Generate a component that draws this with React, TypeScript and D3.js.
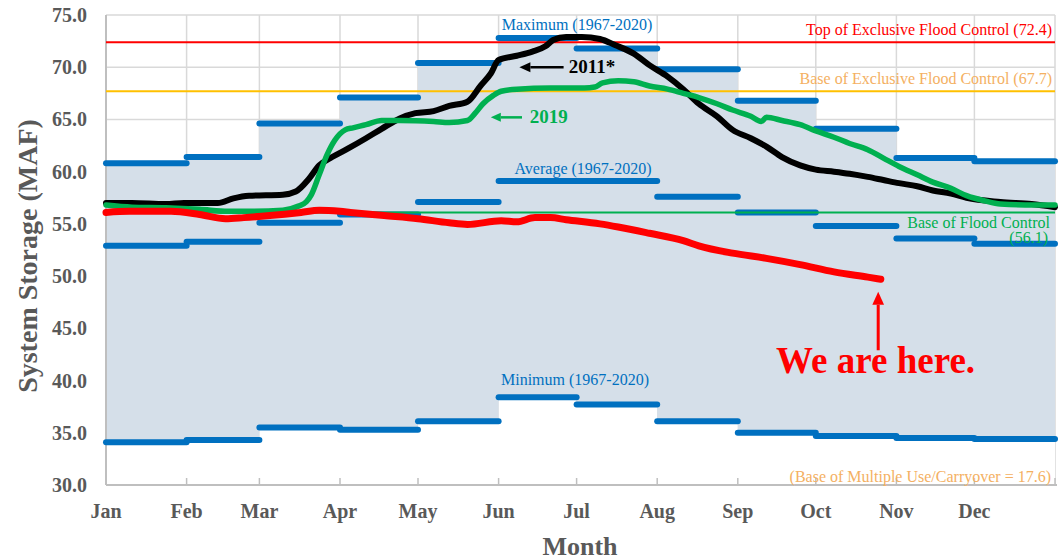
import React, { useEffect, useRef } from "react";
import * as d3 from "d3";

// monthly stats 1967-2020 (MAF)
const maxVals = [60.8, 61.4, 64.6, 67.1, 70.4, 72.8, 71.8, 69.8, 66.8, 64.1, 61.3, 61.0];
const avgVals = [52.9, 53.3, 55.1, 55.9, 57.1, 59.1, 59.1, 57.6, 56.1, 54.8, 53.6, 53.1];
const minVals = [34.1, 34.3, 35.5, 35.3, 36.1, 38.4, 37.7, 36.1, 35.0, 34.7, 34.5, 34.4];

// [day of year, storage]
const current: [number, number][] = [
  [0, 56.1], [9, 56.2], [25, 56.2], [36, 55.9], [46, 55.5], [53, 55.6], [63, 55.8], [75, 56.1],
  [82, 56.3], [90, 56.2], [94, 56.1], [107, 55.8], [120, 55.5], [132, 55.1], [139, 54.95],
  [152, 55.3], [158, 55.2], [165, 55.6], [171, 55.6], [177, 55.4], [190, 55.0], [197, 54.7],
  [209, 54.1], [222, 53.4], [228, 52.9], [241, 52.2], [254, 51.7], [267, 51.1], [280, 50.4],
  [293, 49.9], [298, 49.7],
];
const y2011: [number, number][] = [
  [0, 57.0], [10, 57.0], [23, 56.9], [30, 57.0], [43, 57.0], [49, 57.45], [55, 57.7], [68, 57.8],
  [73, 58.1], [78, 59.3], [82, 60.6], [87, 61.4], [93, 62.2], [100, 63.2], [106, 64.1], [113, 65.1],
  [119, 65.6], [126, 65.8], [132, 66.3], [139, 66.7], [144, 68.2], [148, 69.4], [151, 70.7],
  [158, 71.1], [164, 71.5], [169, 72.0], [172, 72.6], [177, 72.9], [183, 72.9], [190, 72.7],
  [196, 72.1], [203, 71.3], [209, 70.2], [216, 69.1], [222, 67.9], [228, 66.5], [235, 65.3],
  [241, 64.0], [248, 63.2], [254, 62.4], [260, 61.4], [267, 60.6], [273, 60.2], [280, 60.0],
  [286, 59.8], [293, 59.5], [299, 59.2], [305, 58.9], [312, 58.6], [318, 58.2], [325, 57.9],
  [331, 57.5], [344, 57.1], [356, 56.9], [365, 56.6],
];
const y2019: [number, number][] = [
  [0, 56.8], [10, 56.6], [23, 56.55], [36, 56.4], [47, 56.2], [55, 56.2], [68, 56.3], [74, 56.7],
  [77, 57.1], [79, 57.8], [82, 59.7], [85, 61.6], [88, 63.0], [92, 64.0], [95, 64.2], [100, 64.5],
  [106, 64.9], [113, 64.9], [126, 64.8], [132, 64.7], [139, 64.9], [142, 65.6], [145, 66.5],
  [149, 67.3], [152, 67.7], [158, 67.9], [171, 68.0], [184, 68.0], [188, 68.1], [191, 68.5],
  [197, 68.7], [203, 68.6], [209, 68.2], [216, 67.9], [222, 67.5], [228, 67.1], [235, 66.5],
  [241, 65.9], [248, 65.3], [252, 64.8], [254, 65.2], [260, 64.9], [267, 64.5], [273, 63.9],
  [280, 63.3], [286, 62.7], [293, 62.1], [299, 61.3], [305, 60.5], [312, 59.7], [318, 59.0],
  [325, 58.4], [331, 57.7], [338, 57.2], [344, 56.9], [357, 56.8], [365, 56.8],
];

const yTicks = [30, 35, 40, 45, 50, 55, 60, 65, 70, 75];
const refLines = [
  { value: 72.4, color: "#ff0000", label: "Top of Exclusive Flood Control (72.4)", labelColor: "#ff0000" },
  { value: 67.7, color: "#ffc000", label: "Base of Exclusive Flood Control (67.7)", labelColor: "#f4b062" },
  { value: 56.1, color: "#00b050", label: "Base of Flood Control", labelColor: "#00b050" },
];

const App = () => {
  const ref = useRef<SVGSVGElement>(null);

  useEffect(() => {
    const width = 1061;
    const height = 560;
    const left = 106, right = 1055, top = 15, bottom = 485;
    const serif = "'Liberation Serif', 'Times New Roman', serif";
    const grey = "#595959";
    const blue = "#0070c0";

    const svg = d3.select(ref.current).attr("width", width).attr("height", height);
    svg.selectAll("*").remove();

    const start = new Date(2021, 0, 1);
    const end = new Date(2022, 0, 1);
    const day = (d: number) => d3.timeDay.offset(start, d);
    const x = d3.scaleTime().domain([start, end]).range([left, right]);
    const y = d3.scaleLinear().domain([30, 75]).range([bottom, top]);
    const months = d3.timeMonth.range(start, end);
    const bounds = [...months, end];

    // grid
    svg.append("g").selectAll("line").data(yTicks).join("line")
      .attr("x1", left).attr("x2", right)
      .attr("y1", d => y(d)).attr("y2", d => y(d))
      .attr("stroke", "#d9d9d9").attr("stroke-width", 1.5);
    svg.append("g").selectAll("line").data(bounds.slice(1)).join("line")
      .attr("x1", d => x(d)).attr("x2", d => x(d))
      .attr("y1", top).attr("y2", bottom)
      .attr("stroke", "#d9d9d9").attr("stroke-width", 1.5);

    // white under min, blue band min..max
    const steps = bounds.map((d, i) => ({ date: d, lo: minVals[Math.min(i, 11)], hi: maxVals[Math.min(i, 11)] }));
    const under = d3.area<any>().x(d => x(d.date)).y0(y(30)).y1(d => y(d.lo)).curve(d3.curveStepAfter);
    const band = d3.area<any>().x(d => x(d.date)).y0(d => y(d.lo)).y1(d => y(d.hi)).curve(d3.curveStepAfter);
    svg.append("path").attr("d", under(steps)).attr("fill", "white");
    svg.append("path").attr("d", band(steps)).attr("fill", "#d5dfe9");

    // axes
    svg.append("line").attr("x1", left).attr("x2", left).attr("y1", top).attr("y2", bottom)
      .attr("stroke", "#bfbfbf").attr("stroke-width", 2);
    svg.append("line").attr("x1", left).attr("x2", right + 2).attr("y1", bottom).attr("y2", bottom)
      .attr("stroke", "#bfbfbf").attr("stroke-width", 2);
    svg.append("g").selectAll("line").data(bounds.slice(1)).join("line")
      .attr("x1", d => x(d)).attr("x2", d => x(d))
      .attr("y1", bottom - 7).attr("y2", bottom)
      .attr("stroke", "#bfbfbf").attr("stroke-width", 1.5);

    svg.append("g").selectAll("text").data(yTicks).join("text")
      .attr("x", 87).attr("y", d => y(d)).attr("dy", "0.35em")
      .attr("text-anchor", "end").attr("font-family", serif).attr("font-weight", "bold")
      .attr("font-size", 20).attr("fill", grey)
      .text(d => d.toFixed(1));
    svg.append("g").selectAll("text").data(months).join("text")
      .attr("x", d => x(d)).attr("y", 518)
      .attr("text-anchor", "middle").attr("font-family", serif).attr("font-weight", "bold")
      .attr("font-size", 20).attr("fill", grey)
      .text(d => d3.timeFormat("%b")(d));

    svg.append("text").attr("transform", "translate(37,256) rotate(-90)")
      .attr("text-anchor", "middle").attr("font-family", serif).attr("font-weight", "bold")
      .attr("font-size", 28).attr("fill", grey).text("System Storage (MAF)");
    svg.append("text").attr("x", 580).attr("y", 555)
      .attr("text-anchor", "middle").attr("font-family", serif).attr("font-weight", "bold")
      .attr("font-size", 26).attr("fill", grey).text("Month");

    // monthly max / avg / min steps
    [maxVals, avgVals, minVals].forEach(vals => {
      svg.append("g").selectAll("line").data(months).join("line")
        .attr("x1", d => x(d)).attr("x2", (d, i) => x(bounds[i + 1]))
        .attr("y1", (d, i) => y(vals[i])).attr("y2", (d, i) => y(vals[i]))
        .attr("stroke", blue).attr("stroke-width", 6).attr("stroke-linecap", "round");
    });

    // reference lines
    refLines.forEach(r => {
      svg.append("line").attr("x1", left).attr("x2", right)
        .attr("y1", y(r.value)).attr("y2", y(r.value))
        .attr("stroke", r.color).attr("stroke-width", 2);
    });

    // curves
    const line = d3.line<[number, number]>()
      .x(d => x(day(d[0]))).y(d => y(d[1]))
      .curve(d3.curveMonotoneX);
    const drawCurve = (data: [number, number][], color: string, w: number) =>
      svg.append("path").attr("d", line(data)).attr("fill", "none")
        .attr("stroke", color).attr("stroke-width", w)
        .attr("stroke-linecap", "round").attr("stroke-linejoin", "round");
    drawCurve(y2011, "#000000", 6);
    drawCurve(y2019, "#00b050", 5.5);
    drawCurve(current, "#ff0000", 7);

    // labels
    const label = (txt: string, px: number, py: number, color: string, anchor: string, size = 16, bold = false) =>
      svg.append("text").attr("x", px).attr("y", py).attr("text-anchor", anchor)
        .attr("font-family", serif).attr("font-size", size).attr("fill", color)
        .attr("font-weight", bold ? "bold" : "normal").text(txt);

    label(refLines[0].label, 1052, 35, refLines[0].labelColor, "end");
    label(refLines[1].label, 1052, 84, refLines[1].labelColor, "end");
    label(refLines[2].label, 1050, 228, refLines[2].labelColor, "end");
    label("(56.1)", 1048, 243, refLines[2].labelColor, "end");
    label("(Base of Multiple Use/Carryover = 17.6)", 1051, 482, "#f4b062", "end");
    label("Maximum (1967-2020)", 577, 30, blue, "middle");
    label("Average (1967-2020)", 583, 174, blue, "middle");
    label("Minimum (1967-2020)", 575, 385, blue, "middle");

    // arrows
    const arrow = (x1: number, y1: number, x2: number, y2: number, color: string, w: number, head: number) => {
      const ang = Math.atan2(y2 - y1, x2 - x1);
      const bx = x2 - head * Math.cos(ang), by = y2 - head * Math.sin(ang);
      svg.append("line").attr("x1", x1).attr("y1", y1).attr("x2", bx).attr("y2", by)
        .attr("stroke", color).attr("stroke-width", w);
      const hw = head * 0.45;
      const p = [
        [x2, y2],
        [bx + hw * Math.sin(ang), by - hw * Math.cos(ang)],
        [bx - hw * Math.sin(ang), by + hw * Math.cos(ang)],
      ];
      svg.append("path").attr("d", "M" + p.map(q => q.join(",")).join("L") + "Z").attr("fill", color);
    };
    arrow(x(day(176.5)), y(70.0), x(day(159)), y(70.0), "#000", 2.5, 11);
    label("2011*", x(day(178.5)), y(70.0) + 6, "#000", "start", 19, true);
    arrow(x(day(160.4)), y(65.2), x(day(148)), y(65.2), "#00b050", 2.5, 10);
    label("2019", x(day(163.8)), y(65.2) + 6, "#00b050", "start", 19, true);
    arrow(x(day(297.7)), y(42.9), x(day(297.7)), y(48.5), "#ff0000", 3, 13);
    label("We are here.", x(day(296.7)), y(40.7), "#ff0000", "middle", 37, true);
  }, []);

  return <svg ref={ref} style={{ position: "absolute", left: 0, top: 0 }}></svg>;
};

export default App;
